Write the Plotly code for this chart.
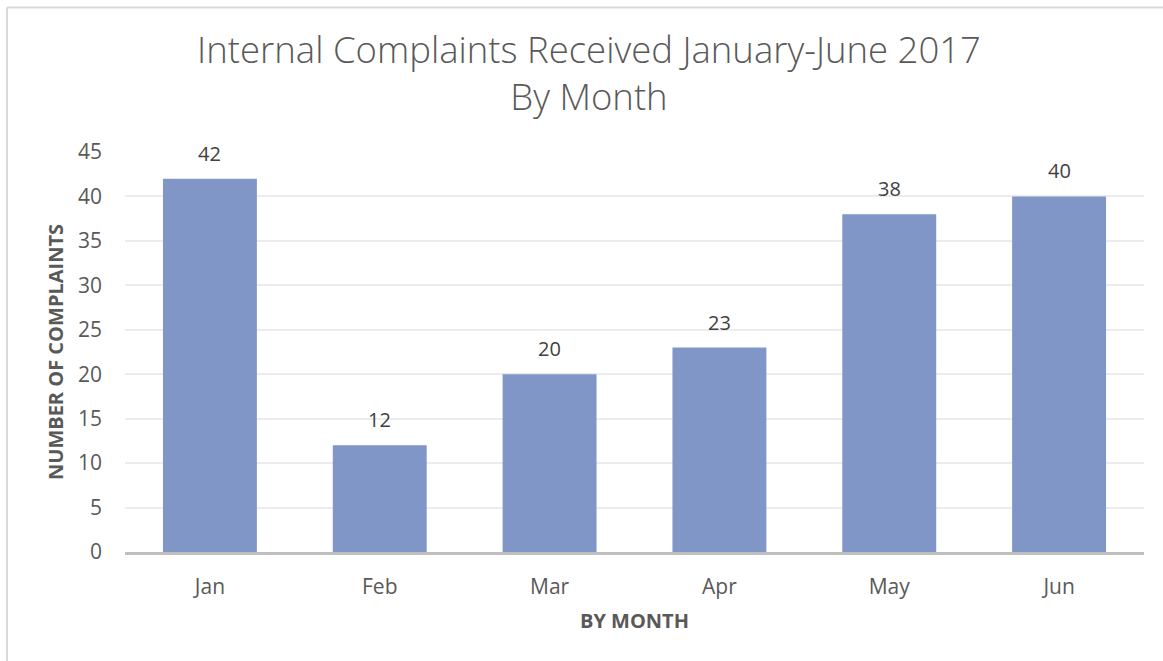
import plotly.graph_objects as go

months = ["Jan", "Feb", "Mar", "Apr", "May", "Jun"]
complaints = [42, 12, 20, 23, 38, 40]
y_ticks = [0, 5, 10, 15, 20, 25, 30, 35, 40, 45]

title_text = "Internal Complaints Received January-June 2017<br>By Month"
x_title = "BY MONTH"
y_title = "NUMBER OF COMPLAINTS"

W, H = 1163, 661
ml, mr, mt, mb = 125, 19, 152, 109
pw, ph = W - ml - mr, H - mt - mb

fig = go.Figure()
fig.add_trace(go.Bar(
    x=months, y=complaints,
    marker=dict(color="rgb(128,150,198)", line=dict(width=0)),
    hoverinfo="x+y",
))

for m, v in zip(months, complaints):
    fig.add_annotation(x=m, y=v, text=str(v), showarrow=False,
                       yanchor="bottom", yshift=10,
                       font=dict(family="Open Sans", size=20, color="#404040"))

def px_x(p):
    return (p - ml) / pw

def px_y(p):
    return (H - mb - p) / ph

# chart border (top and left edges visible)
fig.add_shape(type="line", xref="paper", yref="paper",
              x0=px_x(7), x1=px_x(1170), y0=px_y(7.5), y1=px_y(7.5),
              line=dict(color="#d9d9d9", width=2))
fig.add_shape(type="line", xref="paper", yref="paper",
              x0=px_x(7), x1=px_x(7), y0=px_y(7.5), y1=px_y(670),
              line=dict(color="#d9d9d9", width=2))

fig.update_layout(
    width=W, height=H,
    margin=dict(l=ml, r=mr, t=mt, b=mb),
    paper_bgcolor="white", plot_bgcolor="white",
    bargap=0.447,
    showlegend=False,
    title=dict(text=title_text, x=589 / W, xanchor="center",
               y=1 - 63 / H, yanchor="top", yref="container",
               font=dict(family="Open Sans", size=36.5, color="#595959", weight=300)),
    font=dict(family="Open Sans", color="#595959"),
)
fig.update_xaxes(
    showgrid=False, showline=True, linecolor="#bfbfbf", linewidth=2.5,
    ticks="", ticklabelstandoff=14,
    tickfont=dict(family="Open Sans", size=21, color="#595959"),
    title=dict(text=x_title, standoff=16,
               font=dict(family="Open Sans", size=20, color="#595959", weight="bold")),
)
fig.update_yaxes(
    range=[0, 45], tickvals=y_ticks, showgrid=True, gridcolor="#ececec", gridwidth=1.5,
    zeroline=False, showline=False, ticks="", ticklabelstandoff=22,
    tickfont=dict(family="Open Sans", size=21, color="#595959"),
    title=dict(text=y_title, standoff=8,
               font=dict(family="Open Sans", size=20, color="#595959", weight="bold")),
)

fig.write_html("out.html", config={"displayModeBar": False},
               post_script="document.body.style.margin='0';document.body.style.overflow='hidden';")
